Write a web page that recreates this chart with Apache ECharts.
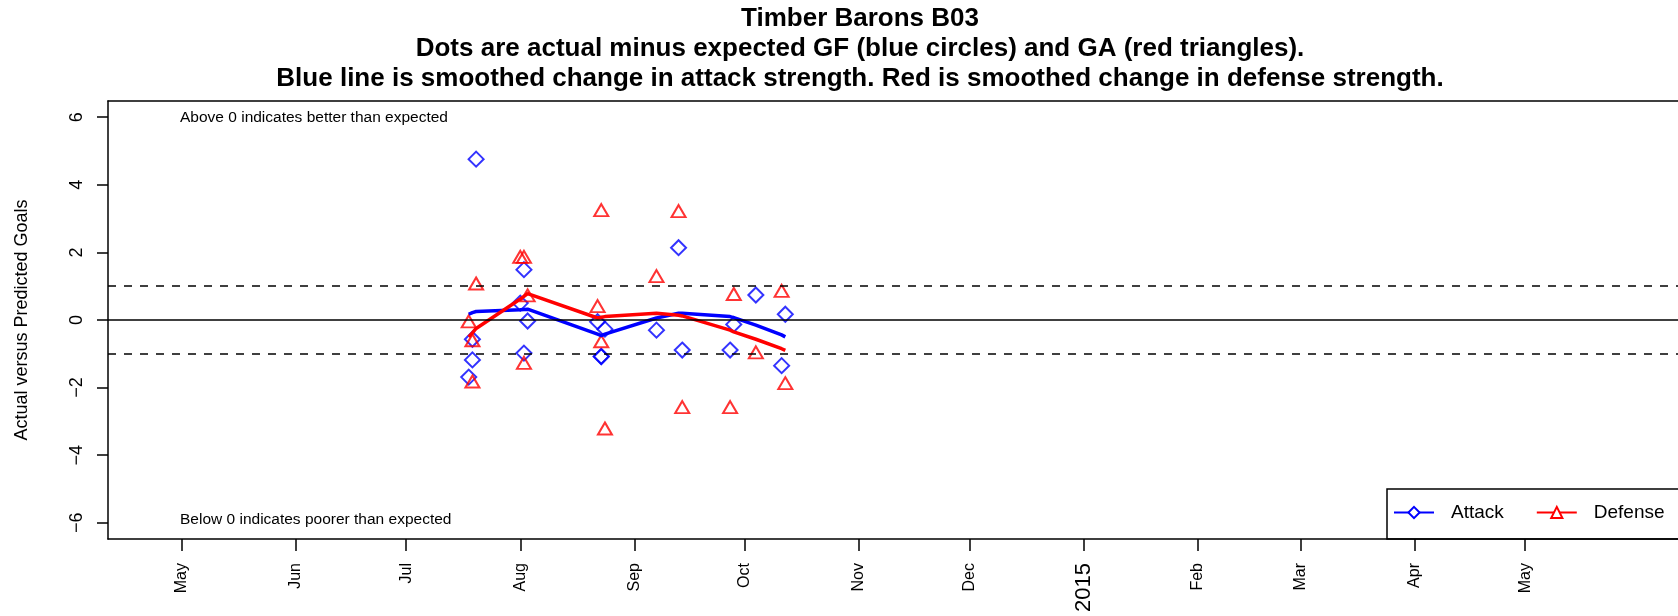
<!DOCTYPE html>
<html>
<head>
<meta charset="utf-8">
<script src="https://cdn.jsdelivr.net/npm/echarts@6/dist/echarts.min.js"></script>
<style>
  html, body { margin: 0; padding: 0; background: #fff; }
  #main { width: 1678px; height: 616px; }
</style>
</head>
<body>
<div id="main"></div>
<script>
// games (two games on a few dates)
const gameDates = ['2014-07-18', '2014-07-19', '2014-07-19', '2014-07-20',
  '2014-08-01', '2014-08-02', '2014-08-02', '2014-08-03',
  '2014-08-22', '2014-08-23', '2014-08-23', '2014-08-24',
  '2014-09-07', '2014-09-13', '2014-09-14', '2014-09-27', '2014-09-28',
  '2014-10-04', '2014-10-11', '2014-10-12'];
const attackDots = [-1.69, -0.57, -1.18, 4.76, 0.5, 1.49, -0.98, -0.03,
  -0.05, -1.08, -1.08, -0.27, -0.3, 2.14, -0.89, -0.89, -0.13, 0.74, -1.35, 0.17];
const defenseDots = [-0.04, -0.6, -1.82, 1.08, 1.87, 1.87, -1.27, 0.73,
  0.41, -0.63, 3.25, -3.21, 1.3, 3.22, -2.58, -2.58, 0.77, -0.96, 0.86, -1.87];
const attackTrend = [0.17, 0.22, 0.22, 0.25, 0.3, 0.31, 0.31, 0.32,
  -0.42, -0.46, -0.46, -0.42, 0.06, 0.2, 0.2, 0.1, 0.07, -0.15, -0.44, -0.5];
const defenseTrend = [-0.5, -0.38, -0.38, -0.25, 0.62, 0.7, 0.7, 0.78,
  0.06, 0.08, 0.08, 0.1, 0.2, 0.14, 0.12, -0.3, -0.35, -0.57, -0.85, -0.9];

const monthTicks = ['2014-05-01', '2014-06-01', '2014-07-01', '2014-08-01', '2014-09-01',
  '2014-10-01', '2014-11-01', '2014-12-01', '2015-01-01', '2015-02-01', '2015-03-01',
  '2015-04-01', '2015-05-01'];
const monthLabels = ['May', 'Jun', 'Jul', 'Aug', 'Sep', 'Oct', 'Nov', 'Dec', '2015',
  'Feb', 'Mar', 'Apr', 'May'];
const yTicks = [-6, -4, -2, 0, 2, 4, 6];

const titleLines = ['Timber Barons B03',
  'Dots are actual minus expected GF (blue circles) and GA (red triangles).',
  'Blue line is smoothed change in attack strength. Red is smoothed change in defense strength.'];

const FONT = '"Liberation Sans", Arial, sans-serif';
const DAY = 86400000;

function toTime(s) {
  const p = s.split('-').map(Number);
  return Date.UTC(p[0], p[1] - 1, p[2]);
}

const tickTimes = monthTicks.map(toTime);
// plot box runs off the right edge of the picture
const gridLeft = 108, gridWidth = 1570, pxPerDay = 3.681;
const xMin = toTime('2014-04-11');
const xMax = xMin + gridWidth / pxPerDay * DAY;

const pairs = (vals) => gameDates.map((d, i) => [toTime(d), vals[i]]);

let chart = echarts.init(document.getElementById('main'));

const blackLine = { color: '#000', width: 1.5 };

let option = {
  animation: false,
  backgroundColor: '#fff',
  textStyle: { fontFamily: FONT },
  grid: { left: gridLeft, top: 101, width: gridWidth, height: 438, show: false },
  xAxis: [{
    type: 'value', min: xMin, max: xMax, position: 'bottom',
    axisLine: { show: true, onZero: false, lineStyle: blackLine },
    splitLine: { show: false },
    axisTick: { show: true, length: 12, customValues: tickTimes, lineStyle: blackLine },
    axisLabel: {
      customValues: tickTimes, rotate: 90, margin: 24,
      color: '#000', fontSize: 16, fontFamily: FONT,
      formatter: function (v) {
        const i = tickTimes.indexOf(v);
        const t = i >= 0 ? monthLabels[i] : '';
        return /^\d{4}$/.test(t) ? '{yr|' + t + '}' : t;
      },
      rich: { yr: { fontSize: 22, fontFamily: FONT, color: '#000' } }
    }
  }, {
    // top edge of the box
    type: 'value', min: xMin, max: xMax, position: 'top',
    axisLine: { show: true, onZero: false, lineStyle: blackLine },
    axisTick: { show: false }, axisLabel: { show: false }, splitLine: { show: false }
  }],
  yAxis: {
    type: 'value', min: -6.48, max: 6.48,
    axisLine: { show: true, onZero: false, lineStyle: blackLine },
    splitLine: { show: false },
    axisTick: { show: true, length: 11, customValues: yTicks, lineStyle: blackLine },
    axisLabel: {
      customValues: yTicks, rotate: 90, margin: 22,
      color: '#000', fontSize: 18, fontFamily: FONT,
      formatter: (v) => String(v).replace('-', '\u2212')
    }
  },
  legend: {
    data: ['Attack', 'Defense'],
    left: 1393, top: 503, width: 600,
    orient: 'horizontal',
    itemWidth: 40, itemHeight: 14, itemGap: 32,
    padding: 0,
    lineStyle: { width: 2 },
    textStyle: { fontSize: 19, color: '#000', fontFamily: FONT, padding: [0, 0, 0, 12] }
  },
  graphic: [
    ...titleLines.map((t, i) => ({
      type: 'text', x: 860, y: 19 + i * 30,
      style: { text: t, fill: '#000', font: 'bold 26px ' + FONT, textAlign: 'center', textVerticalAlign: 'middle' }
    })),
    {
      type: 'text', x: 22, y: 320, rotation: Math.PI / 2,
      style: { text: 'Actual versus Predicted Goals', fill: '#000', font: '18px ' + FONT, textAlign: 'center', textVerticalAlign: 'middle' }
    },
    {
      type: 'text', x: 180, y: 118,
      style: { text: 'Above 0 indicates better than expected', fill: '#000', font: '15.5px ' + FONT, textVerticalAlign: 'middle' }
    },
    {
      type: 'text', x: 180, y: 520,
      style: { text: 'Below 0 indicates poorer than expected', fill: '#000', font: '15.5px ' + FONT, textVerticalAlign: 'middle' }
    },
    {
      // legend frame, right side runs off the picture like the plot box
      type: 'rect', shape: { x: 1387, y: 489, width: 400, height: 50 },
      style: { fill: 'none', stroke: '#000', lineWidth: 1.5 }, z: 10
    }
  ],
  series: [
    {
      name: 'refs', type: 'line', data: [], silent: true,
      markLine: {
        symbol: 'none', silent: true, label: { show: false },
        data: [
          { yAxis: 0, lineStyle: { type: 'solid', color: '#000', width: 1.5 } },
          { yAxis: 1, lineStyle: { type: [8, 8], color: '#000', width: 1.5 } },
          { yAxis: -1, lineStyle: { type: [8, 8], color: '#000', width: 1.5 } }
        ]
      }
    },
    {
      name: 'Attack dots', type: 'scatter', data: pairs(attackDots),
      symbol: 'diamond', symbolSize: [15, 15],
      itemStyle: { color: 'rgba(0,0,0,0)', borderColor: '#0000ff', borderWidth: 2 },
      z: 3
    },
    {
      name: 'Defense dots', type: 'scatter', data: pairs(defenseDots),
      symbol: 'triangle', symbolSize: [14, 12],
      itemStyle: { color: 'rgba(0,0,0,0)', borderColor: '#ff0000', borderWidth: 2 },
      z: 3
    },
    {
      name: 'Attack', type: 'line', data: pairs(attackTrend),
      symbol: 'emptyDiamond', symbolSize: 12, showSymbol: false,
      lineStyle: { color: '#0000ff', width: 3.5 }, itemStyle: { color: '#0000ff' },
      z: 4
    },
    {
      name: 'Defense', type: 'line', data: pairs(defenseTrend),
      symbol: 'emptyTriangle', symbolSize: 12, showSymbol: false,
      lineStyle: { color: '#ff0000', width: 3.5 }, itemStyle: { color: '#ff0000' },
      z: 4
    }
  ]
};

chart.setOption(option);
</script>
</body>
</html>
